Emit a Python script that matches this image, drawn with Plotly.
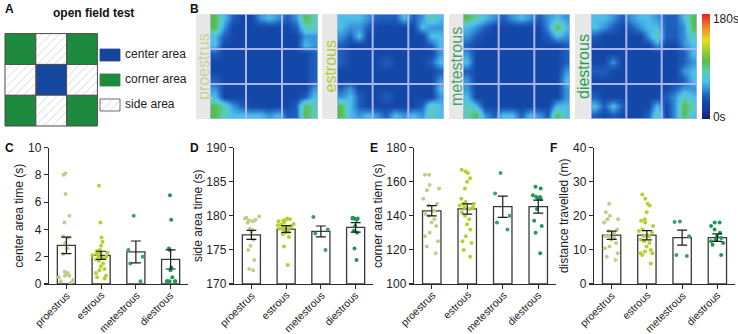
import plotly.graph_objects as go

# ---------------- data ----------------
stages = ["proestrus", "estrous", "metestrous", "diestrous"]
dot_colors = ["#c4cc8c", "#b8cf30", "#3f9d78", "#1c9a55"]
label_colors = ["#c9d294", "#b3ca3a", "#4c9f6c", "#28a052"]

# C: center area time (s)
center_pro = [8.1, 8.0, 6.6, 5.0, 4.5, 3.5, 3.4, 3.0, 2.6, 2.2, 0.9, 0.8, 0.7, 0.6, 0.6, 0.5, 0.3, 0.2, 0.1]
center_est = [7.2, 4.5, 3.4, 3.1, 2.8, 2.5, 2.4, 2.3, 2.3, 2.2, 2.1, 2.0, 2.0, 1.9, 1.8, 1.7, 1.5, 1.3, 1.1, 1.0, 0.8, 0.6, 0.5, 0.4]
center_met = [5.0, 2.5, 2.0, 1.5, 0.2]
center_die = [6.5, 4.7, 2.6, 2.5, 1.2, 1.0, 0.5, 0.2, 0.2, 0.2, 0.2, 0.2]
center_mean = [2.83, 2.1, 2.35, 1.8]
center_sem = [0.6, 0.3, 0.8, 0.7]

# D: side area time (s)
side_pro = [179.9, 179.7, 179.6, 179.4, 179.3, 179.2, 179.0, 178.1, 177.9, 177.7, 176.5, 175.6, 175.0, 173.5, 172.2, 172.0]
side_est = [179.6, 179.5, 179.4, 179.3, 179.2, 179.0, 178.8, 178.7, 178.6, 178.5, 178.3, 178.2, 178.1, 178.0, 177.9, 177.8, 177.6, 177.5, 177.3, 176.9, 175.5, 172.8]
side_met = [179.8, 178.0, 177.4, 175.0]
side_die = [179.7, 179.6, 179.6, 179.6, 179.5, 179.5, 179.4, 178.5, 177.8, 177.5, 175.2, 173.5]
side_mean = [177.2, 178.05, 177.7, 178.3]
side_sem = [0.65, 0.5, 0.8, 0.7]

# E: corner area time (s)
corner_pro = [164, 164, 158, 156, 155, 150, 147, 146, 143, 141, 140, 138, 136, 134, 130, 128, 125, 122, 118]
corner_est = [167, 166, 165, 162, 160, 156, 150, 148, 147, 147, 146, 145, 145, 144, 142, 140, 138, 135, 132, 128, 125, 124, 120, 116]
corner_met = [165, 153, 140, 136, 132]
corner_die = [157, 156, 152, 151, 151, 150, 150, 144, 137, 134, 130, 118]
corner_mean = [142.9, 144.0, 145.3, 145.3]
corner_sem = [3.0, 3.0, 6.2, 3.8]

# F: distance travelled (m)
dist_pro = [23.5, 21, 20, 19, 19, 18, 16, 15.5, 15, 14, 14, 13.5, 13, 12, 11, 10.5, 9, 8, 7]
dist_est = [26.2, 25, 23.5, 23, 21, 19, 18.5, 18, 17, 16, 15.5, 15, 14, 14, 13, 12.5, 12, 11, 10, 9.5, 9, 9, 8.5, 6]
dist_met = [18.3, 18.2, 14, 8.5, 8.2]
dist_die = [18, 18, 17, 16, 15, 14, 13.5, 13, 12.5, 12, 11.5, 8.5]
dist_mean = [14.3, 14.3, 13.6, 13.6]
dist_sem = [1.2, 1.35, 2.2, 1.1]

# A: open field layout
area_grid = [["corner", "side", "corner"],
             ["side", "center", "side"],
             ["corner", "side", "corner"]]
area_names = ["center", "corner", "side"]
area_labels = ["center area", "corner area", "side area"]
area_colors = ["#16479f", "#1d8a3d", "white"]

# B: heatmaps, dwell level codes (top row first), 12x12 per arena
heat_proestrus = ["642113432365", "631111111255", "421111111133", "411111111143",
                  "211111111112", "111111111112", "111111111112", "211111111112",
                  "311111111113", "411111111124", "653211111265", "654444342265"]
heat_estrous = ["444322242354", "433211111433", "324111111144", "211111111124",
                "211111111113", "211112111124", "111111111112", "111111111113",
                "231111111114", "342112111113", "642111111254", "643432434354"]
heat_metestrous = ["654323432343", "432111111364", "321111111243", "211111111112",
                   "311111111112", "411111111112", "211111111113", "311111111114",
                   "311111111113", "411111111113", "541111111144", "563244243264"]
heat_diestrous = ["443234432246", "432123442236", "211111352235", "111111131134",
                  "111111111124", "113111111123", "221111111134", "111111111124",
                  "111111111233", "211111112354", "424211141365", "212111251364"]
level_seconds = [0, 29, 39, 53, 64, 80, 98, 112]
heat_maps = [heat_proestrus, heat_estrous, heat_metestrous, heat_diestrous]

# ---------------- geometry helpers ----------------
W, H = 738, 334
def fx(px): return px / W
def fy(py): return 1 - py / H

FONT = "Liberation Sans, Arial, sans-serif"
fig = go.Figure()
shapes = []
annotations = []

# ---------------- panel A ----------------
hatch = dict(shape="/", fgcolor="#8a8a8a", bgcolor="white", size=6, solidity=0.12)
for name, col in zip(area_names, area_colors):
    xs, bases = [], []
    for r, row in enumerate(area_grid):
        for c, cell in enumerate(row):
            if cell == name:
                xs.append(c + 0.5)
                bases.append(2 - r)
    pat = hatch if name == "side" else dict(shape="")
    fig.add_trace(go.Bar(x=xs, y=[1] * len(xs), base=bases, width=1,
                         marker=dict(color=col, line=dict(color="#4a4a4a", width=1), pattern=pat),
                         xaxis="x5", yaxis="y5", hoverinfo="skip"))
leg_x = 3.409
leg_bases = [2.11, 1.299, 0.487]
for name, col, b in zip(area_names, area_colors, leg_bases):
    pat = hatch if name == "side" else dict(shape="")
    fig.add_trace(go.Bar(x=[leg_x], y=[0.39], base=[b], width=0.65,
                         marker=dict(color=col, line=dict(color="#4a4a4a" if name == "side" else col, width=0.8), pattern=pat),
                         xaxis="x5", yaxis="y5", hoverinfo="skip"))
fig.add_trace(go.Scatter(x=[3.9] * 3, y=[b + 0.195 for b in leg_bases], text=area_labels,
                         mode="text", textposition="middle right",
                         textfont=dict(size=12, color="#222", family=FONT),
                         xaxis="x5", yaxis="y5", hoverinfo="skip"))

# ---------------- panel B ----------------
cs = [[0.00, "#1a1a6e"], [0.08, "#1a379a"], [0.16, "#1448a8"], [0.22, "#1f5fbe"],
      [0.29, "#3592d8"], [0.36, "#4fc0ea"], [0.45, "#5ccbb4"], [0.55, "#58bc48"],
      [0.65, "#9ccd30"], [0.75, "#e8dc28"], [0.87, "#f08a22"], [1.00, "#e02222"]]
heat_x = [(i + 0.5) / 4 for i in range(12)]
heat_dom = [(210, 318), (337, 444), (463, 570), (591, 697)]
strip_dom = [(196, 210), (322, 337), (449, 463), (575, 591)]
for k, rows in enumerate(heat_maps):
    ax = 6 + k
    z = [[level_seconds[int(ch)] for ch in row] for row in reversed(rows)]
    tr = go.Heatmap(z=z, x=heat_x, y=heat_x, colorscale=cs, zmin=0, zmax=180,
                    zsmooth="best", showscale=(k == 3), hoverinfo="skip",
                    xaxis=f"x{ax}", yaxis=f"y{ax}")
    if k == 3:
        tr.colorbar = dict(x=fx(702), xanchor="left", y=fy(66.5), yanchor="middle",
                           len=105 / H, lenmode="fraction", thickness=8, thicknessmode="pixels",
                           xpad=0, ypad=0, outlinewidth=0, ticks="",
                           tickvals=[3, 171], ticktext=["0s", "180s"],
                           tickfont=dict(size=12, color="#222", family=FONT))
    fig.add_trace(tr)
    for v in (1, 2):
        shapes.append(dict(type="line", xref=f"x{ax}", yref=f"y{ax}", x0=v, x1=v, y0=0, y1=3,
                           line=dict(color="#aab6f2", width=2), layer="above"))
        shapes.append(dict(type="line", xref=f"x{ax}", yref=f"y{ax}", x0=0, x1=3, y0=v, y1=v,
                           line=dict(color="#aab6f2", width=2), layer="above"))
    shapes.append(dict(type="rect", xref=f"x{ax}", yref=f"y{ax}", x0=0, x1=3, y0=0, y1=3,
                       line=dict(color="#aab6f2", width=1.5), layer="above"))
    s0, s1 = strip_dom[k]
    shapes.append(dict(type="rect", xref="paper", yref="paper", x0=fx(s0), x1=fx(s1),
                       y0=fy(119), y1=fy(14), fillcolor="#e8e8e8", line=dict(width=0), layer="below"))
    annotations.append(dict(text=stages[k], xref="paper", yref="paper", x=fx((s0 + s1) / 2 + 0.5), y=fy(66.5),
                            textangle=-90, showarrow=False, xanchor="center", yanchor="middle",
                            font=dict(size=16, color=label_colors[k], family=FONT)))

# ---------------- panels C-F ----------------
panels = [
    ("x", "y", [center_pro, center_est, center_met, center_die], center_mean, center_sem,
     "center area time (s)", [0, 10], 2, (49, 188)),
    ("x2", "y2", [side_pro, side_est, side_met, side_die], side_mean, side_sem,
     "side area time (s)", [170, 190], 5, (234, 373)),
    ("x3", "y3", [corner_pro, corner_est, corner_met, corner_die], corner_mean, corner_sem,
     "corner area tiem (s)", [100, 180], 20, (414, 556)),
    ("x4", "y4", [dist_pro, dist_est, dist_met, dist_die], dist_mean, dist_sem,
     "distance travelled (m)", [0, 40], 10, (594, 735)),
]
layout_axes = {}
for i, (xa, ya, groups, means, sems, title, yr, dt, (p0, p1)) in enumerate(panels):
    base = yr[0]
    fig.add_trace(go.Bar(x=stages, y=[m - base for m in means], base=base, width=0.52,
                         marker=dict(color="white", line=dict(color="#3a3a3a", width=1.3)),
                         xaxis=xa, yaxis=ya, hoverinfo="skip"))
    for st, vals, col in zip(stages, groups, dot_colors):
        fig.add_trace(go.Box(x=[st] * len(vals), y=vals, boxpoints="all", jitter=0.85, pointpos=0,
                             width=0.6, fillcolor="rgba(0,0,0,0)", line=dict(width=0),
                             marker=dict(color=col, size=4), xaxis=xa, yaxis=ya, hoverinfo="skip"))
    fig.add_trace(go.Scatter(x=stages, y=means, mode="markers",
                             marker=dict(color="rgba(0,0,0,0)", size=1),
                             error_y=dict(type="data", array=sems, color="#1a1a1a", thickness=1.2, width=5),
                             xaxis=xa, yaxis=ya, hoverinfo="skip"))
    for st in stages:
        annotations.append(dict(text=st, xref=xa, yref="paper", x=st, y=fy(287.5),
                                xanchor="right", yanchor="top", xshift=7, textangle=-45,
                                showarrow=False, borderpad=0,
                                font=dict(size=10.5, color="#222", family=FONT)))
    xkey = "xaxis" if xa == "x" else "xaxis" + xa[1:]
    ykey = "yaxis" if ya == "y" else "yaxis" + ya[1:]
    layout_axes[xkey] = dict(domain=[fx(p0), fx(p1)], anchor=ya, type="category",
                             categoryorder="array", categoryarray=stages, range=[-0.5, 3.5],
                             showline=True, linecolor="#2a2a2a", linewidth=1.2,
                             ticks="outside", ticklen=4, tickwidth=1.2, tickcolor="#2a2a2a",
                             showticklabels=False,
                             showgrid=False, zeroline=False, automargin=False)
    layout_axes[ykey] = dict(domain=[fy(284), fy(147.5)], anchor=xa, range=yr, dtick=dt,
                             showline=True, linecolor="#2a2a2a", linewidth=1.2,
                             ticks="outside", ticklen=4, tickwidth=1.2, tickcolor="#2a2a2a",
                             tickfont=dict(size=12, color="#222", family=FONT),
                             title=dict(text=title, font=dict(size=12, color="#222", family=FONT), standoff=1),
                             showgrid=False, zeroline=False, automargin=False)

# panel A axes
layout_axes["xaxis5"] = dict(domain=[0, fx(200)], range=[-5 / 30.8, 195 / 30.8], visible=False,
                             anchor="y5", automargin=False, fixedrange=True)
layout_axes["yaxis5"] = dict(domain=[fy(140), 1], range=[-14 / 30.8, 126 / 30.8], visible=False,
                             anchor="x5", automargin=False, fixedrange=True)
for k, (h0, h1) in enumerate(heat_dom):
    ax = 6 + k
    layout_axes[f"xaxis{ax}"] = dict(domain=[fx(h0), fx(h1)], range=[0, 3], visible=False,
                                     anchor=f"y{ax}", automargin=False)
    layout_axes[f"yaxis{ax}"] = dict(domain=[fy(119), fy(14)], range=[0, 3], visible=False,
                                     anchor=f"x{ax}", automargin=False)

# panel letters and title
for letter, px, py in [("A", 3, 9), ("B", 188, 9), ("C", 3, 148), ("D", 188, 148), ("E", 368, 148), ("F", 548, 148)]:
    annotations.append(dict(text=f"<b>{letter}</b>", xref="paper", yref="paper", x=fx(px), y=fy(py),
                            xanchor="left", yanchor="middle", showarrow=False,
                            font=dict(size=12, color="#111", family=FONT)))
annotations.append(dict(text="<b>open field test</b>", xref="paper", yref="paper", x=fx(93), y=fy(13),
                        xanchor="center", yanchor="middle", showarrow=False,
                        font=dict(size=12, color="#111", family=FONT)))

fig.update_layout(width=W, height=H, margin=dict(l=0, r=0, t=0, b=0, pad=0, autoexpand=False),
                  paper_bgcolor="white", plot_bgcolor="white", showlegend=False,
                  barmode="overlay", boxmode="overlay", shapes=shapes, annotations=annotations,
                  font=dict(family=FONT), **layout_axes)
fig.write_html("out.html", config={"displayModeBar": False, "staticPlot": True},
               post_script="document.body.style.margin='0';document.body.style.overflow='hidden';")
